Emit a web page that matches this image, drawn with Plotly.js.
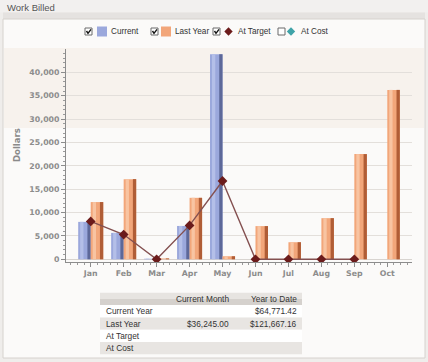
<!DOCTYPE html>
<html>
<head>
<meta charset="utf-8">
<script src="https://cdn.plot.ly/plotly-3.0.1.min.js"></script>
<style>
  html, body { margin: 0; padding: 0; background: #efedeb; }
  #chart { width: 428px; height: 362px; }
</style>
</head>
<body>
<div id="chart"></div>
<script>
// Monthly billing figures
const months = ['Jan', 'Feb', 'Mar', 'Apr', 'May', 'Jun', 'Jul', 'Aug', 'Sep', 'Oct'];
const currentYear = [8000.50, 5648.30, 120.00, 7131.12, 43871.50, 0, null, null, null, null];
const lastYear = [12241.16, 17150, 180, 13150, 650, 7100, 3650, 8800, 22501, 36245];
const atTarget = [8100, 5300, 0, 7250, 16750, 0, 0, 0, 0, null];
const atCost = [null, null, null, null, null, null, null, null, null, null];

const seriesNames = ['Current', 'Last Year', 'At Target', 'At Cost'];
const seriesChecked = [true, true, true, false];
const tableHeader = ['', 'Current Month', 'Year to Date'];
const rowNames = ['Current Year', 'Last Year', 'At Target', 'At Cost'];

const W = 428, H = 362;
const px = x => x / W;
const py = y => 1 - y / H;
const idx = months.map((_, i) => i);

const BLUE = '#9ba8dc', BLUE_DARK = '#5d6899', BLUE_LIGHT = '#b4bfe8';
const ORANGE = '#f2a67a', ORANGE_DARK = '#b05d36', ORANGE_LIGHT = '#f8c4a2';
const TARGET_LINE = '#845050', TARGET_MARK = '#6b1b1b', COST = '#3fa3a8';

// Bars are built as a base column plus a highlight and an edge stripe for a rounded look
const BW = 0.38;
function barLayer(values, offset, width, color) {
  return {
    type: 'bar', x: idx, y: values, offset: offset, width: width,
    marker: { color: color, line: { width: 0 } },
    hoverinfo: 'skip', showlegend: false
  };
}
const traces = [
  barLayer(currentYear, -BW, BW, BLUE),
  barLayer(currentYear, -BW + 0.06, 0.1, BLUE_LIGHT),
  barLayer(currentYear, -0.1, 0.1, BLUE_DARK),
  barLayer(lastYear, 0, BW, ORANGE),
  barLayer(lastYear, 0.06, 0.1, ORANGE_LIGHT),
  barLayer(lastYear, BW - 0.1, 0.1, ORANGE_DARK),
  {
    type: 'scatter', mode: 'lines+markers', x: idx, y: atTarget, name: seriesNames[2],
    line: { color: TARGET_LINE, width: 1.4 },
    marker: { symbol: 'diamond', size: 7.5, color: TARGET_MARK },
    showlegend: false
  },
  {
    type: 'scatter', mode: 'lines+markers', x: idx, y: atCost, name: seriesNames[3],
    marker: { symbol: 'diamond', size: 7.5, color: COST }, showlegend: false
  }
];

// Panel frame, header strip and the soft band behind the upper plot
const shapes = [
  { type: 'rect', xref: 'paper', yref: 'paper', x0: px(0), x1: px(428), y0: py(0), y1: py(12.5),
    fillcolor: '#f2f0ef', line: { width: 0 }, layer: 'below' },
  { type: 'rect', xref: 'paper', yref: 'paper', x0: px(3), x1: px(425), y0: py(12.5), y1: py(19),
    fillcolor: '#e5e2e0', line: { width: 0 }, layer: 'below' },
  { type: 'rect', xref: 'paper', yref: 'paper', x0: px(3), x1: px(425), y0: py(19), y1: py(358),
    fillcolor: '#fbfaf9', line: { color: '#d6d2ce', width: 1 }, layer: 'below' },
  { type: 'rect', xref: 'paper', yref: 'paper', x0: px(4), x1: px(424), y0: py(48), y1: py(128),
    fillcolor: '#f7f2ed', line: { width: 0 }, layer: 'below' }
];
const annotations = [];

// Summary table: month and year-to-date totals taken from the series above
const money = v => '$' + v.toLocaleString('en-US', { minimumFractionDigits: 2, maximumFractionDigits: 2 });
const sum = arr => arr.reduce((a, v) => a + (v || 0), 0);
const last = months.length - 1;
const colMonth = [
  currentYear[last] == null ? '' : money(currentYear[last]),
  lastYear[last] == null ? '' : money(lastYear[last]),
  '', ''
];
const colYtd = [money(sum(currentYear)), money(sum(lastYear)), '', ''];
const rowFill = ['#ffffff', '#e8e5e2', '#ffffff', '#e8e5e2'];
const tableFont = { family: 'Liberation Sans, Arial, sans-serif', size: 8.3, color: '#333' };

const T = { x0: 100, x1: 302, top: 292.8, rowH: 12.3, nameX: 104, monthR: 231, ytdR: 299 };
shapes.push({ type: 'rect', xref: 'paper', yref: 'paper', x0: px(T.x0), x1: px(T.x1),
  y0: py(T.top), y1: py(T.top + T.rowH / 2), fillcolor: '#e7e4e1', line: { width: 0 } });
shapes.push({ type: 'rect', xref: 'paper', yref: 'paper', x0: px(T.x0), x1: px(T.x1),
  y0: py(T.top + T.rowH / 2), y1: py(T.top + T.rowH), fillcolor: '#d5d1cd', line: { width: 0 } });
const headerY = T.top + T.rowH / 2;
[[tableHeader[1], T.monthR], [tableHeader[2], T.ytdR]].forEach(([txt, x]) => {
  annotations.push({ xref: 'paper', yref: 'paper', x: px(x), y: py(headerY), xanchor: 'right',
    yanchor: 'middle', showarrow: false, text: txt, font: tableFont });
});
rowNames.forEach((name, r) => {
  const y0 = T.top + T.rowH * (r + 1), yc = y0 + T.rowH / 2;
  shapes.push({ type: 'rect', xref: 'paper', yref: 'paper', x0: px(T.x0), x1: px(T.x1),
    y0: py(y0), y1: py(y0 + T.rowH), fillcolor: rowFill[r], line: { width: 0 } });
  annotations.push({ xref: 'paper', yref: 'paper', x: px(T.nameX), y: py(yc), xanchor: 'left',
    yanchor: 'middle', showarrow: false, text: name, font: tableFont });
  if (colMonth[r]) annotations.push({ xref: 'paper', yref: 'paper', x: px(T.monthR), y: py(yc),
    xanchor: 'right', yanchor: 'middle', showarrow: false, text: colMonth[r], font: tableFont });
  if (colYtd[r]) annotations.push({ xref: 'paper', yref: 'paper', x: px(T.ytdR), y: py(yc),
    xanchor: 'right', yanchor: 'middle', showarrow: false, text: colYtd[r], font: tableFont });
});

// Legend with check boxes
const legendItems = [
  { box: 85, sym: 'square', symX: 102, color: BLUE, text: 109 },
  { box: 151, sym: 'square', symX: 166, color: ORANGE, text: 172.5 },
  { box: 213, sym: 'diamond', symX: 228.5, color: TARGET_MARK, text: 235.5 },
  { box: 278, sym: 'diamond', symX: 291, color: COST, text: 298.5 }
];
const LY = 31.5;
legendItems.forEach((it, i) => {
  shapes.push({ type: 'rect', xref: 'paper', yref: 'paper',
    x0: px(it.box), x1: px(it.box + 7), y0: py(LY - 3.5), y1: py(LY + 3.5),
    fillcolor: '#ffffff', line: { color: '#6a6a6a', width: 1 } });
  if (seriesChecked[i]) {
    const b = it.box;
    shapes.push({ type: 'path', xref: 'paper', yref: 'paper',
      path: `M ${px(b + 1.5)} ${py(LY - 0.5)} L ${px(b + 3)} ${py(LY + 1.8)} L ${px(b + 6)} ${py(LY - 2.2)}`,
      line: { color: '#111', width: 1.4 } });
  }
  if (it.sym === 'square') {
    shapes.push({ type: 'rect', xref: 'paper', yref: 'paper',
      x0: px(it.symX - 5), x1: px(it.symX + 5), y0: py(LY - 5), y1: py(LY + 5),
      fillcolor: it.color, line: { width: 0 } });
  } else {
    const r = 4.2, c = it.symX;
    shapes.push({ type: 'path', xref: 'paper', yref: 'paper',
      path: `M ${px(c - r)} ${py(LY)} L ${px(c)} ${py(LY - r)} L ${px(c + r)} ${py(LY)} L ${px(c)} ${py(LY + r)} Z`,
      fillcolor: it.color, line: { width: 0 } });
  }
  annotations.push({ xref: 'paper', yref: 'paper', x: px(it.text), y: py(LY),
    xanchor: 'left', yanchor: 'middle', showarrow: false, text: seriesNames[i],
    font: { family: 'Liberation Sans, Arial, sans-serif', size: 8.2, color: '#333' } });
});

annotations.push({ xref: 'paper', yref: 'paper', x: px(5), y: py(7), xanchor: 'left', yanchor: 'middle',
  showarrow: false, text: 'Work Billed',
  font: { family: 'Liberation Sans, Arial, sans-serif', size: 9.5, color: '#555' } });
annotations.push({ xref: 'paper', yref: 'paper', x: px(17), y: py(145), xanchor: 'center', yanchor: 'middle',
  showarrow: false, text: 'Dollars', textangle: -90,
  font: { family: 'DejaVu Sans, sans-serif', size: 8.5, color: '#8a8a8a', weight: 'bold' } });

const tickFont = { family: 'DejaVu Sans, sans-serif', size: 7.8, color: '#8c8c8c', weight: 'bold' };

const layout = {
  width: W, height: H,
  margin: { l: 0, r: 0, t: 0, b: 0 },
  paper_bgcolor: '#efedeb',
  plot_bgcolor: 'rgba(0,0,0,0)',
  barmode: 'overlay',
  showlegend: false,
  xaxis: {
    domain: [px(66), px(412)], range: [-0.75, 9.75],
    tickmode: 'array', tickvals: idx, ticktext: months,
    ticks: 'outside', ticklen: 4, tickcolor: '#8c8c8c',
    showline: true, linecolor: '#8c8c8c', linewidth: 1,
    showgrid: false, zeroline: false, automargin: false,
    tickfont: tickFont, fixedrange: true,
    minor: { tickmode: 'linear', tick0: 0, dtick: 0.2, ticks: 'outside', ticklen: 2, tickcolor: '#9a9a9a', showgrid: false }
  },
  yaxis: {
    domain: [py(262), py(49)], range: [-580, 44990],
    dtick: 5000, tickformat: ',d',
    ticks: 'outside', ticklen: 4, tickcolor: '#8c8c8c',
    showline: true, linecolor: '#8c8c8c', linewidth: 1,
    showgrid: true, gridcolor: '#e3dfdb', gridwidth: 1,
    zeroline: true, zerolinecolor: '#d8d4d0', zerolinewidth: 1,
    automargin: false, tickfont: tickFont, fixedrange: true,
    minor: { dtick: 1000, ticks: 'outside', ticklen: 2, tickcolor: '#9a9a9a', showgrid: false }
  },
  shapes: shapes,
  annotations: annotations
};

Plotly.newPlot('chart', traces, layout, { displayModeBar: false, staticPlot: true });
</script>
</body>
</html>
